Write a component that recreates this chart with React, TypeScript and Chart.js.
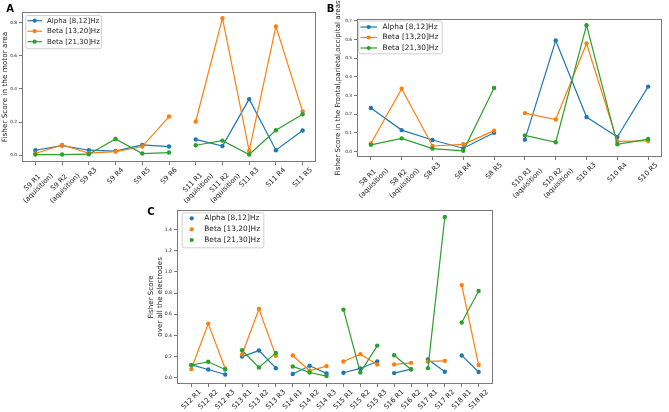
import React, { useEffect, useRef } from "react";
import { Chart, registerables } from "chart.js";
Chart.register(...registerables);

const FONT = "'DejaVu Sans', sans-serif";
const COLORS = ["#1f77b4", "#ff7f0e", "#2ca02c"];
const seriesNames = ["Alpha [8,12]Hz", "Beta [13,20]Hz", "Beta [21,30]Hz"];

// ---------- Panel A : motor area ----------
const aLabels: (string | string[])[] = [
  ["S9 R1", "(aquisition)"], ["S9 R2", "(aquisition)"], "S9 R3", "S9 R4", "S9 R5", "S9 R6",
  ["S11 R1", "(aquisition)"], ["S11 R2", "(aquisition)"], "S11 R3", "S11 R4", "S11 R5",
];
const aGroups = [0, 0, 0, 0, 0, 0, 1, 1, 1, 1, 1];
const aAlpha = [0.03, 0.058, 0.03, 0.025, 0.062, 0.052, 0.095, 0.055, 0.338, 0.03, 0.149];
const aBeta13 = [0.01, 0.062, 0.012, 0.022, 0.052, 0.233, 0.203, 0.826, 0.026, 0.776, 0.263];
const aBeta21 = [0.004, 0.004, 0.006, 0.098, 0.01, 0.016, 0.06, 0.088, 0.004, 0.15, 0.247];
const aYTicks = [0, 0.2, 0.4, 0.6, 0.8];

// ---------- Panel B : frontal, parietal, occipital ----------
const bLabels: (string | string[])[] = [
  ["S8 R1", "(aquisition)"], ["S8 R2", "(aquisition)"], "S8 R3", "S8 R4", "S8 R5",
  ["S10 R1", "(aquisition)"], ["S10 R2", "(aquisition)"], "S10 R3", "S10 R4", "S10 R5",
];
const bGroups = [0, 0, 0, 0, 0, 1, 1, 1, 1, 1];
const bAlpha = [0.233, 0.115, 0.062, 0.018, 0.101, 0.064, 0.595, 0.185, 0.078, 0.348];
const bBeta13 = [0.043, 0.337, 0.03, 0.039, 0.112, 0.206, 0.172, 0.579, 0.055, 0.057];
const bBeta21 = [0.036, 0.071, 0.016, 0.004, 0.341, 0.087, 0.05, 0.677, 0.039, 0.067];
const bYTicks = [0, 0.1, 0.2, 0.3, 0.4, 0.5, 0.6, 0.7];

// ---------- Panel C : all electrodes ----------
const cLabels: (string | string[])[] = [
  "S12 R1", "S12 R2", "S12 R3", "S13 R1", "S13 R2", "S13 R3", "S14 R1", "S14 R2", "S14 R3",
  "S15 R1", "S15 R2", "S15 R3", "S16 R1", "S16 R2", "S17 R1", "S17 R2", "S18 R1", "S18 R2",
];
const cGroups = [0, 0, 0, 1, 1, 1, 2, 2, 2, 3, 3, 3, 4, 4, 5, 5, 6, 6];
const cAlpha = [0.122, 0.078, 0.031, 0.2, 0.257, 0.091, 0.035, 0.113, 0.041, 0.047, 0.088, 0.154, 0.044, 0.082, 0.173, 0.057, 0.211, 0.054];
const cBeta13 = [0.082, 0.512, 0.088, 0.22, 0.65, 0.207, 0.21, 0.066, 0.11, 0.154, 0.223, 0.126, 0.126, 0.141, 0.154, 0.16, 0.876, 0.12];
const cBeta21 = [0.119, 0.151, 0.078, 0.26, 0.097, 0.235, 0.107, 0.05, 0.016, 0.644, 0.05, 0.304, 0.213, 0.078, 0.091, 1.52, 0.522, 0.82];
const cYTicks = [0, 0.2, 0.4, 0.6, 0.8, 1.0, 1.2, 1.4];

type Spec = {
  left: number; top: number; width: number; height: number;
  area: { l: number; t: number; r: number; b: number };
  labels: (string | string[])[];
  groups: number[];
  series: number[][];
  yTicks: number[]; yMin: number; yMax: number;
  title: string[]; titleX: number; titleFs: number;
  letter: string; letterX: number; letterY: number;
  legend: { box: [number, number, number, number]; lineX0: number; lineX1: number; markerX: number; textX: number; rows: number[]; fs: number; lines: boolean };
  xFs: number; yFs: number;
};

const specs: Spec[] = [
  {
    left: 0, top: 0, width: 330, height: 205,
    area: { l: 22, t: 12, r: 316, b: 162 },
    labels: aLabels, groups: aGroups, series: [aAlpha, aBeta13, aBeta21],
    yTicks: aYTicks, yMin: -0.041, yMax: 0.863,
    title: ["Fisher Score in the motor area"], titleX: 5.5, titleFs: 7.3,
    letter: "A", letterX: 10, letterY: 9,
    legend: { box: [25.3, 15, 101, 48.3], lineX0: 27.5, lineX1: 42, markerX: 34.7, textX: 47, rows: [20.7, 31.2, 41.7], fs: 7.0, lines: true },
    xFs: 6.9, yFs: 4.3,
  },
  {
    left: 320, top: 0, width: 349, height: 205,
    area: { l: 37, t: 19, r: 342, b: 157 },
    labels: bLabels, groups: bGroups, series: [bAlpha, bBeta13, bBeta21],
    yTicks: bYTicks, yMin: -0.029, yMax: 0.71,
    title: ["Fisher Score in the Frontal,parietal,occipital areas"], titleX: 18.5, titleFs: 7.1,
    letter: "B", letterX: 10.5, letterY: 9,
    legend: { box: [38.3, 20.5, 121.7, 53.3], lineX0: 40.5, lineX1: 57, markerX: 48.7, textX: 62.5, rows: [27, 37.5, 48], fs: 7.4, lines: true },
    xFs: 6.9, yFs: 4.3,
  },
  {
    left: 100, top: 205, width: 420, height: 207,
    area: { l: 77, t: 4, r: 393, b: 179 },
    labels: cLabels, groups: cGroups, series: [cAlpha, cBeta13, cBeta21],
    yTicks: cYTicks, yMin: -0.059, yMax: 1.588,
    title: ["Fisher Score", "over all the electrodes"], titleX: 55.9, titleFs: 7.1,
    letter: "C", letterX: 51, letterY: 7,
    legend: { box: [81.7, 7.3, 163.3, 42.3], lineX0: 0, lineX1: 0, markerX: 91.7, textX: 104.3, rows: [13.3, 24.3, 35], fs: 7.4, lines: false },
    xFs: 6.9, yFs: 4.6,
  },
];

function makeOverlay(spec: Spec) {
  return {
    id: "overlay" + spec.letter,
    afterDraw(chart: any) {
      const ctx: CanvasRenderingContext2D = chart.ctx;
      const ca = chart.chartArea;
      const xs = chart.scales.x;
      ctx.save();
      // frame
      ctx.strokeStyle = "#7a7a7a";
      ctx.lineWidth = 1;
      ctx.strokeRect(Math.round(ca.left) + 0.5, Math.round(ca.top) + 0.5, Math.round(ca.right - ca.left) - 1, Math.round(ca.bottom - ca.top) - 1);

      // x labels rotated 45°, centred like matplotlib
      ctx.fillStyle = "#222";
      ctx.font = `${spec.xFs}px ${FONT}`;
      ctx.textAlign = "center";
      ctx.textBaseline = "middle";
      const lh = spec.xFs * 1.2;
      spec.labels.forEach((lab, i) => {
        const lines = Array.isArray(lab) ? lab : [lab];
        const W = Math.max(...lines.map((l) => ctx.measureText(l).width));
        const H = lines.length * lh;
        const x = xs.getPixelForValue(i);
        const top = ca.bottom + 4;
        const cy = top + ((W + H) * Math.SQRT1_2) / 2;
        ctx.save();
        ctx.translate(x, cy);
        ctx.rotate(-Math.PI / 4);
        lines.forEach((l, k) => ctx.fillText(l, 0, -H / 2 + lh * (k + 0.5)));
        ctx.restore();
      });

      // y title
      ctx.font = `${spec.titleFs}px ${FONT}`;
      const tlh = spec.titleFs * 1.2;
      const cyT = (ca.top + ca.bottom) / 2;
      ctx.save();
      ctx.translate(spec.titleX, cyT);
      ctx.rotate(-Math.PI / 2);
      const n = spec.title.length;
      spec.title.forEach((t, k) => ctx.fillText(t, 0, (k - (n - 1) / 2) * tlh));
      ctx.restore();

      // letter
      ctx.font = `bold 10px ${FONT}`;
      ctx.fillStyle = "#000";
      ctx.fillText(spec.letter, spec.letterX, spec.letterY);

      // legend
      const lg = spec.legend;
      const [bx0, by0, bx1, by1] = lg.box;
      ctx.beginPath();
      (ctx as any).roundRect(bx0 + 0.5, by0 + 0.5, bx1 - bx0, by1 - by0, 2);
      ctx.fillStyle = "rgba(255,255,255,0.85)";
      ctx.fill();
      ctx.strokeStyle = "#d0d0d0";
      ctx.lineWidth = 1;
      ctx.stroke();
      ctx.font = `${lg.fs}px ${FONT}`;
      ctx.textAlign = "left";
      seriesNames.forEach((name, k) => {
        const y = lg.rows[k];
        ctx.strokeStyle = COLORS[k];
        ctx.fillStyle = COLORS[k];
        if (lg.lines) {
          ctx.beginPath();
          ctx.moveTo(lg.lineX0, y);
          ctx.lineTo(lg.lineX1, y);
          ctx.lineWidth = 1.2;
          ctx.stroke();
        }
        ctx.beginPath();
        ctx.arc(lg.markerX, y, 2.1, 0, Math.PI * 2);
        ctx.fill();
        ctx.fillStyle = "#222";
        ctx.fillText(name, lg.textX, y);
      });
      ctx.restore();
    },
  };
}

function buildConfig(spec: Spec): any {
  const n = spec.labels.length;
  const margin = (n - 1) * 0.05;
  const datasets = spec.series.map((vals, k) => ({
    label: seriesNames[k],
    data: vals.map((v, i) => ({ x: i, y: v })),
    borderColor: COLORS[k],
    backgroundColor: COLORS[k],
    pointBackgroundColor: COLORS[k],
    borderWidth: 1.2,
    pointRadius: 2.2,
    pointBorderWidth: 0,
    tension: 0,
    fill: false,
    order: 2 - k,
    segment: {
      borderColor: (c: any) =>
        spec.groups[c.p0DataIndex] !== spec.groups[c.p1DataIndex] ? "rgba(0,0,0,0)" : undefined,
    },
  }));
  const gridCfg = { display: true, drawOnChartArea: false, drawTicks: true, tickLength: 3, color: "#555", lineWidth: 0.8 };
  return {
    type: "line",
    data: { datasets },
    options: {
      animation: false,
      responsive: false,
      devicePixelRatio: 1,
      layout: { padding: { left: 0, top: spec.area.t, right: spec.width - spec.area.r, bottom: 0 } },
      plugins: { legend: { display: false }, tooltip: { enabled: false } },
      scales: {
        x: {
          type: "linear",
          min: -margin,
          max: n - 1 + margin,
          afterBuildTicks: (s: any) => { s.ticks = spec.labels.map((_, i) => ({ value: i })); },
          afterFit: (s: any) => { s.height = spec.height - spec.area.b; },
          ticks: { display: false },
          grid: gridCfg,
          border: { display: false },
        },
        y: {
          type: "linear",
          min: spec.yMin,
          max: spec.yMax,
          afterBuildTicks: (s: any) => { s.ticks = spec.yTicks.map((v) => ({ value: v })); },
          afterFit: (s: any) => { s.width = spec.area.l; },
          ticks: {
            callback: (v: any) => Number(v).toFixed(1),
            font: { size: spec.yFs, family: FONT },
            color: "#222",
            padding: 2,
          },
          grid: gridCfg,
          border: { display: false },
        },
      },
    },
    plugins: [makeOverlay(spec)],
  };
}

function Panel({ spec }: { spec: Spec }) {
  const ref = useRef<HTMLCanvasElement>(null);
  useEffect(() => {
    if (!ref.current) return;
    const chart = new Chart(ref.current, buildConfig(spec));
    return () => chart.destroy();
  }, [spec]);
  return (
    <canvas
      ref={ref}
      width={spec.width}
      height={spec.height}
      style={{ position: "absolute", left: spec.left, top: spec.top, width: spec.width, height: spec.height, display: "block" }}
    />
  );
}

export default function App() {
  return (
    <div style={{ position: "fixed", left: 0, top: 0, width: 669, height: 412, background: "#fff", overflow: "hidden" }}>
      {specs.map((s) => (
        <Panel key={s.letter} spec={s} />
      ))}
    </div>
  );
}
